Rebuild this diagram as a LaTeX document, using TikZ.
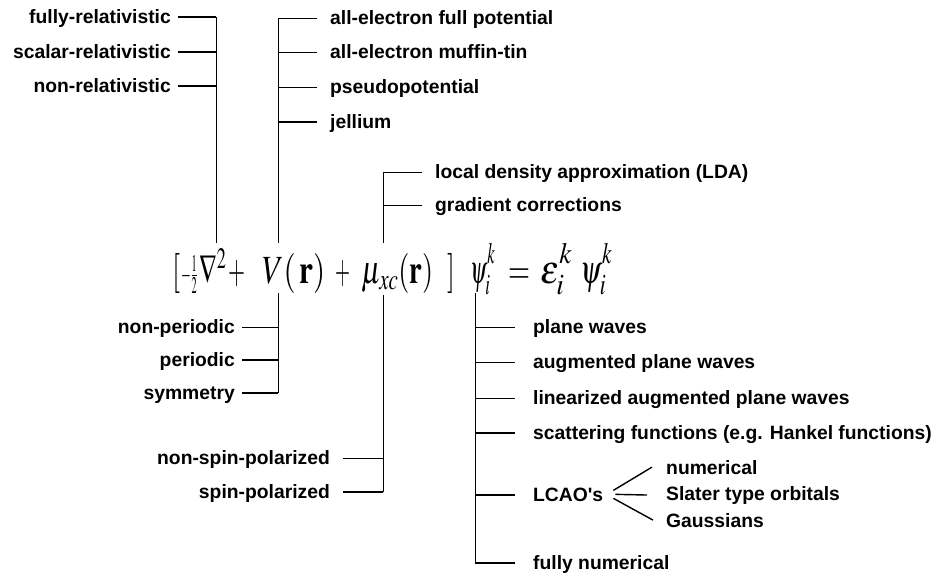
\documentclass[tikz,border=0pt]{standalone}
\usepackage{mathptmx}
\usepackage{fontspec}
\setmainfont{Liberation Sans}
\usepackage{graphicx}
\newcommand{\labfont}{\fontsize{19.3}{22}\selectfont\bfseries}
\newcommand{\eqfont}{\fontsize{40}{48}\selectfont}
\newcommand{\fitw}[2]{\resizebox{#1}{\height}{#2}}
\newcommand{\hisup}[1]{\raisebox{5pt}{$\scriptstyle #1$}}
\tikzset{
  labE/.style={font=\labfont, inner sep=0pt, anchor=base east},
  labW/.style={font=\labfont, inner sep=0pt, anchor=base west},
  eqpart/.style={font=\eqfont, inner sep=0pt, anchor=base west},
  trunk/.style={line width=1pt},
  thinln/.style={line width=1pt},
  midln/.style={line width=1.4pt},
  thickln/.style={line width=1.9pt},
}
\begin{document}
\begin{tikzpicture}[x=1pt,y=-1pt]
\useasboundingbox (0,0) rectangle (942,576);

% ---------- equation ----------
\node[eqpart] (lb) at (172,283) {\fitw{8pt}{$[$}};
\node[eqpart] (half) at (181,283) {\fitw{16pt}{${\scriptstyle -\frac{1}{2}}$}};
\node[eqpart] (nab) at (199,283) {\fitw{27pt}{$\nabla^{2}$}};
\node[eqpart] (plus1) at (228,283) {\fitw{17pt}{$+$}};
\node[eqpart] (vr) at (262,283) {\fitw{63pt}{$V(\,\mathbf{r})$}};
\node[eqpart] (plus2) at (335,283) {\fitw{15pt}{$+$}};
\node[eqpart] (mu) at (362,283) {\fitw{71pt}{$\mu_{xc}(\mathbf{r})$}};
\node[eqpart] (rb) at (447,283) {\fitw{8pt}{$]$}};
\node[eqpart] (psi) at (470,283) {\fitw{25pt}{$\psi_i^{\hisup{k}}$}};
\node[eqpart] (eqs) at (508,283) {\fitw{22pt}{$=$}};
\node[eqpart] (eps) at (540,283) {\fitw{32pt}{$\epsilon_i^{\hisup{k}}$}};
\node[eqpart] (psi2) at (580,283) {\fitw{32pt}{$\psi_i^{\hisup{k}}$}};

% ---------- group A: relativistic ----------
\node[labE] (fr) at (171,23) {fully-relativistic};
\node[labE] (sr) at (171,58) {scalar-relativistic};
\node[labE] (nr) at (171,92) {non-relativistic};
\coordinate (a1) at (216,17);
\coordinate (a2) at (216,52);
\coordinate (a3) at (216,86);
\coordinate (a9) at (216,243);
\draw[trunk] (a1) -- (a9);
\draw[thickln, shorten <=7pt] (fr.east |- a1) -- (a1);
\draw[thickln, shorten <=7pt] (sr.east |- a2) -- (a2);
\draw[thickln, shorten <=7pt] (nr.east |- a3) -- (a3);

% ---------- group B: potential ----------
\node[labW] (fp) at (330,24) {all-electron full potential};
\node[labW] (mt) at (330,58) {all-electron muffin-tin};
\node[labW] (pp) at (330,93) {pseudopotential};
\node[labW] (je) at (330,128) {jellium};
\coordinate (b1) at (278,18);
\coordinate (b2) at (278,52);
\coordinate (b3) at (278,87);
\coordinate (b4) at (278,122);
\coordinate (b9) at (278,243);
\draw[trunk] (b1) -- (b9);
\draw[thinln, shorten >=13pt] (b1) -- (fp.west |- b1);
\draw[thinln, shorten >=13pt] (b2) -- (mt.west |- b2);
\draw[thinln, shorten >=13pt] (b3) -- (pp.west |- b3);
\draw[midln, shorten >=13pt] (b4) -- (je.west |- b4);

% ---------- group C: exchange-correlation ----------
\node[labW] (lda) at (435,178) {local density approximation (LDA)};
\node[labW] (gc) at (435,211) {gradient corrections};
\coordinate (c1) at (383,172);
\coordinate (c2) at (383,205);
\coordinate (c9) at (383,243);
\draw[trunk] (c1) -- (c9);
\draw[thinln, shorten >=13pt] (c1) -- (lda.west |- c1);
\draw[thinln, shorten >=13pt] (c2) -- (gc.west |- c2);

% ---------- group D: periodicity ----------
\node[labE] (np) at (235,333) {non-periodic};
\node[labE] (pe) at (235,366) {periodic};
\node[labE] (sy) at (235,399) {symmetry};
\coordinate (d0) at (278,293);
\coordinate (d1) at (278,327);
\coordinate (d2) at (278,360);
\coordinate (d3) at (278,393);
\draw[trunk] (d0) -- (d3);
\draw[thinln, shorten <=7pt] (np.east |- d1) -- (d1);
\draw[thickln, shorten <=7pt] (pe.east |- d2) -- (d2);
\draw[thickln, shorten <=7pt] (sy.east |- d3) -- (d3);

% ---------- group E: spin ----------
\node[labE] (nsp) at (330,464) {non-spin-polarized};
\node[labE] (sp) at (330,498) {spin-polarized};
\coordinate (e0) at (383,295);
\coordinate (e1) at (383,458);
\coordinate (e2) at (383,492);
\draw[trunk] (e0) -- (e2);
\draw[thinln, shorten <=13pt] (nsp.east |- e1) -- (e1);
\draw[thickln, shorten <=13pt] (sp.east |- e2) -- (e2);

% ---------- group F: basis ----------
\node[labW] (pw) at (533,333) {plane waves};
\node[labW] (apw) at (533,368) {augmented plane waves};
\node[labW] (lapw) at (533,404) {linearized augmented plane waves};
\node[labW] (sf) at (533,439) {scattering functions (e.g. Hankel functions)};
\node[labW] (lcao) at (533,501) {LCAO\textquotesingle s};
\node[labW] (fn) at (533,569) {fully numerical};
\coordinate (f0) at (475,293);
\coordinate (f1) at (475,327);
\coordinate (f2) at (475,362);
\coordinate (f3) at (475,398);
\coordinate (f4) at (475,433);
\coordinate (f5) at (475,495);
\coordinate (f6) at (475,563);
\draw[trunk] (f0) -- (f6);
\draw[thinln, shorten >=18pt] (f1) -- (pw.west |- f1);
\draw[thinln, shorten >=18pt] (f2) -- (apw.west |- f2);
\draw[thinln, shorten >=18pt] (f3) -- (lapw.west |- f3);
\draw[thickln, shorten >=18pt] (f4) -- (sf.west |- f4);
\draw[thickln, shorten >=18pt] (f5) -- (lcao.west |- f5);
\draw[midln, shorten >=18pt] (f6) -- (fn.west |- f6);

% ---------- LCAO fan ----------
\node[labW] (num) at (666,474) {numerical};
\node[labW] (sto) at (666,500) {Slater type orbitals};
\node[labW] (gau) at (666,527) {Gaussians};
\draw[midln] ([xshift=10pt,yshift=4pt]lcao.east) -- ([xshift=-14pt]num.west);
\draw[midln] ([xshift=12pt]lcao.east) -- ([xshift=-19pt]sto.west);
\draw[midln] ([xshift=10pt,yshift=-4pt]lcao.east) -- ([xshift=-13pt]gau.west);
\end{tikzpicture}
\end{document}
